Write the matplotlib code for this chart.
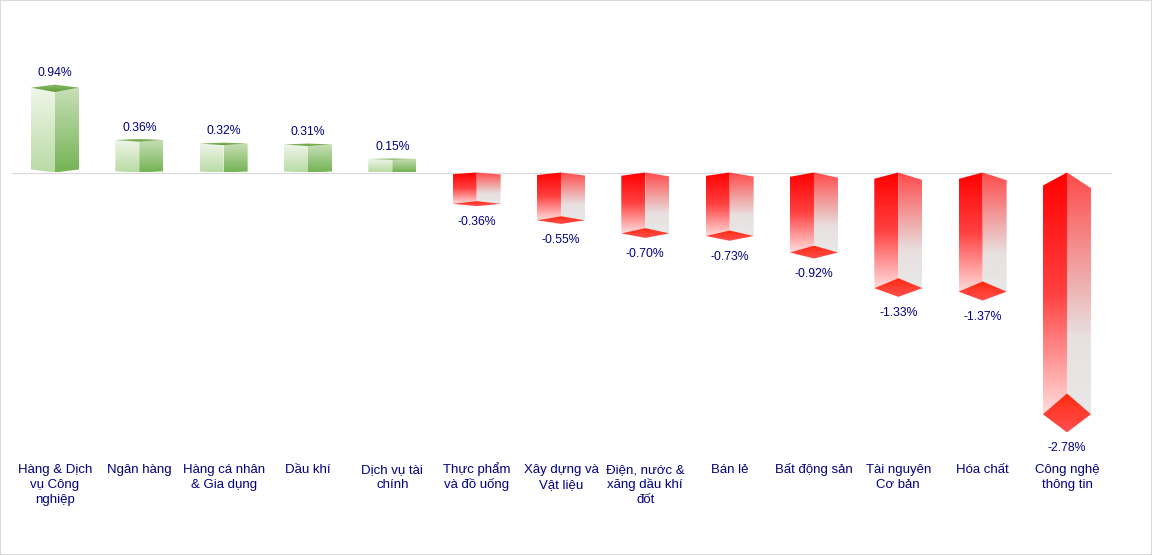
import matplotlib
matplotlib.use("Agg")
import matplotlib.pyplot as plt
import numpy as np
from matplotlib.colors import LinearSegmentedColormap
from matplotlib.patches import Polygon

plt.rcParams['font.family'] = ['Liberation Sans', 'DejaVu Sans']

categories = [
    "Hàng & Dịch\nvụ Công\nnghiệp", "Ngân hàng", "Hàng cá nhân\n& Gia dụng", "Dầu khí",
    "Dịch vụ tài\nchính", "Thực phẩm\nvà đồ uống", "Xây dựng và\nVật liệu",
    "Điện, nước &\nxăng dầu khí\nđốt", "Bán lẻ", "Bất động sản",
    "Tài nguyên\nCơ bản", "Hóa chất", "Công nghệ\nthông tin",
]
values = [0.94, 0.36, 0.32, 0.31, 0.15, -0.36, -0.55, -0.70, -0.73, -0.92, -1.33, -1.37, -2.78]

NAVY = "#000080"
GRID = "#d9d9d9"
W, H = 1152, 555
ZERO_PX, PX_PER_UNIT = 172.5, 93.5
FIRST_PX, STEP_PX = 55, 84.33
HALF = 24 / STEP_PX

green_left = LinearSegmentedColormap.from_list("gl", ["#f0f6ea", "#b9dba4"])
green_right = LinearSegmentedColormap.from_list("gr", ["#c8e0b8", "#74b354"])
green_cap = LinearSegmentedColormap.from_list("gc", ["#8cbc6c", "#5f9e3a"])
red_left = LinearSegmentedColormap.from_list("rl", ["#ff0000", "#ff4040", "#ffdcdc"])
red_right = LinearSegmentedColormap.from_list("rr", [(0, "#ff4a4a"), (0.68, "#e8e0e0"), (1, "#e8e8e8")])
red_cap = LinearSegmentedColormap.from_list("rc", ["#ff2a10", "#ff5050"])


def gradient_face(ax, points, cmap):
    # imshow clipped to the face polygon, top to bottom
    pts = np.array(points)
    grad = np.linspace(0, 1, 256).reshape(-1, 1)
    extent = (pts[:, 0].min(), pts[:, 0].max(), pts[:, 1].min(), pts[:, 1].max())
    im = ax.imshow(grad, cmap=cmap, extent=extent, origin="upper", aspect="auto", zorder=2)
    im.set_clip_path(Polygon(points, transform=ax.transData))


def draw_bar(ax, x, v):
    xl, xr = x - HALF, x + HALF
    h = abs(v)
    if v >= 0:
        corner_base = 0.035 * h
        top_corner = v - 0.035 * h
        top_front = v - 0.085 * h
        gradient_face(ax, [(xl, corner_base), (x, 0), (x, top_front), (xl, top_corner)], green_left)
        gradient_face(ax, [(x, 0), (xr, corner_base), (xr, top_corner), (x, top_front)], green_right)
        gradient_face(ax, [(x, v), (xr, top_corner), (x, top_front), (xl, top_corner)], green_cap)
    else:
        left_top = -0.05 * h
        right_top = -0.06 * h
        inner = v + 0.15 * h
        corner = v + 0.07 * h
        gradient_face(ax, [(xl, left_top), (x, 0), (x, inner), (xl, corner)], red_left)
        gradient_face(ax, [(x, 0), (xr, right_top), (xr, corner), (x, inner)], red_right)
        gradient_face(ax, [(x, inner), (xr, corner), (x, v), (xl, corner)], red_cap)


fig = plt.figure(figsize=(W / 100, H / 100), dpi=100)
ax = fig.add_axes([0, 0, 1, 1])

for i, v in enumerate(values):
    draw_bar(ax, i, v)
    off = 8.1 if v >= 0 else -11.5
    ax.annotate(f"{v:.2f}%", (i, v), xytext=(0, off), textcoords="offset points",
                ha="center", va="center", fontsize=8.8, color=NAVY, zorder=3)

# zero line
ax.plot([(12 - FIRST_PX) / STEP_PX, (1111 - FIRST_PX) / STEP_PX], [0, 0], color=GRID, lw=0.9, zorder=1)

# category labels, one text per line on a fixed baseline
for i, name in enumerate(categories):
    for n, line in enumerate(name.split("\n")):
        y = (ZERO_PX - (473 + 15 * n)) / PX_PER_UNIT
        ax.text(i, y, line, ha="center", va="baseline", fontsize=9.5, color=NAVY)

ax.set_xlim(-FIRST_PX / STEP_PX, (W - FIRST_PX) / STEP_PX)
ax.set_ylim((ZERO_PX - H) / PX_PER_UNIT, ZERO_PX / PX_PER_UNIT)
ax.set_xticks([])
ax.set_yticks([])
for s in ax.spines.values():
    s.set_color(GRID)
    s.set_linewidth(1.4)

fig.savefig("out.png", dpi=100)
